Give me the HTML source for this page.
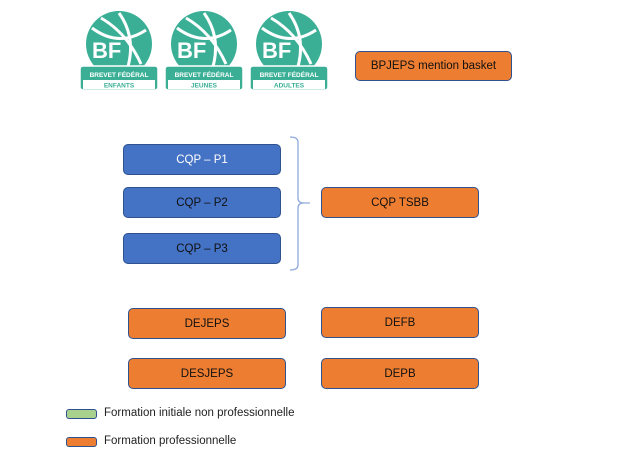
<!DOCTYPE html>
<html><head><meta charset="utf-8"><style>
body{margin:0;width:622px;height:476px;background:#fff;position:relative;font-family:"Liberation Sans",sans-serif;overflow:hidden}
.b{position:absolute;box-sizing:border-box;border:1.3px solid #2f528f;border-radius:5px;display:flex;align-items:center;justify-content:center;font-size:11.5px;color:#111}
.bl{background:#4472c4}
.or{background:#ed7d31}
.lg{position:absolute;left:104px;font-size:11.5px;color:#222}
.lb{position:absolute;left:66px;width:31px;height:10px;box-sizing:border-box;border:1px solid #2f528f;border-radius:3px}
</style></head><body>
<svg width="622" height="100" style="position:absolute;left:0;top:0">
<defs><g id="logo">
<circle cx="40" cy="36" r="33" fill="#3aaf96"/>
<path d="M13 20 Q40 40 67 22 M40 5 Q58 30 48 62 M22 10 Q48 25 62 56" stroke="#fff" stroke-width="3" fill="none"/>
<text x="13" y="50" font-family="Liberation Sans" font-weight="bold" font-size="22" fill="#fff">BF</text>
<rect x="1" y="58" width="78" height="24" fill="#3aaf96" rx="3" stroke="#fff" stroke-width="1.5"/>
<text x="40" y="69" text-anchor="middle" font-family="Liberation Sans" font-weight="bold" font-size="6.5" fill="#fff">BREVET FÉDÉRAL</text>
<rect x="4" y="72" width="72" height="9" fill="#fff"/>
</g></defs>
<g transform="translate(79,8)"><use href="#logo"/><text x="40" y="79.5" text-anchor="middle" font-family="Liberation Sans" font-weight="bold" font-size="6.5" fill="#3aaf96">ENFANTS</text></g>
<g transform="translate(164,8)"><use href="#logo"/><text x="40" y="79.5" text-anchor="middle" font-family="Liberation Sans" font-weight="bold" font-size="6.5" fill="#3aaf96">JEUNES</text></g>
<g transform="translate(249,8)"><use href="#logo"/><text x="40" y="79.5" text-anchor="middle" font-family="Liberation Sans" font-weight="bold" font-size="6.5" fill="#3aaf96">ADULTES</text></g>
</svg>
<div class="b or" style="left:355px;top:51px;width:157px;height:30px">BPJEPS mention basket</div>
<div class="b bl" style="left:123px;top:144px;width:158px;height:31px;color:#fff">CQP – P1</div>
<div class="b bl" style="left:123px;top:187px;width:158px;height:31px">CQP – P2</div>
<div class="b bl" style="left:123px;top:233px;width:158px;height:31px">CQP – P3</div>
<svg width="622" height="476" style="position:absolute;left:0;top:0">
<path d="M290 137 Q298 137 298 142 L298 198 Q298 203 304 203 L310 203 M304 203 Q298 203 298 208 L298 265 Q298 270 290 270" stroke="#8eaadb" stroke-width="1.3" fill="none"/>
</svg>
<div class="b or" style="left:321px;top:187px;width:158px;height:31px">CQP TSBB</div>
<div class="b or" style="left:128px;top:308px;width:158px;height:31px">DEJEPS</div>
<div class="b or" style="left:321px;top:307px;width:158px;height:31px">DEFB</div>
<div class="b or" style="left:128px;top:358px;width:158px;height:31px">DESJEPS</div>
<div class="b or" style="left:321px;top:358px;width:158px;height:31px">DEPB</div>
<div class="lb" style="top:409px;background:#a9d18e"></div>
<div class="lg" style="top:407px">Formation initiale non professionnelle</div>
<div class="lb" style="top:437px;background:#ed7d31"></div>
<div class="lg" style="top:435px">Formation professionnelle</div>
</body></html>
